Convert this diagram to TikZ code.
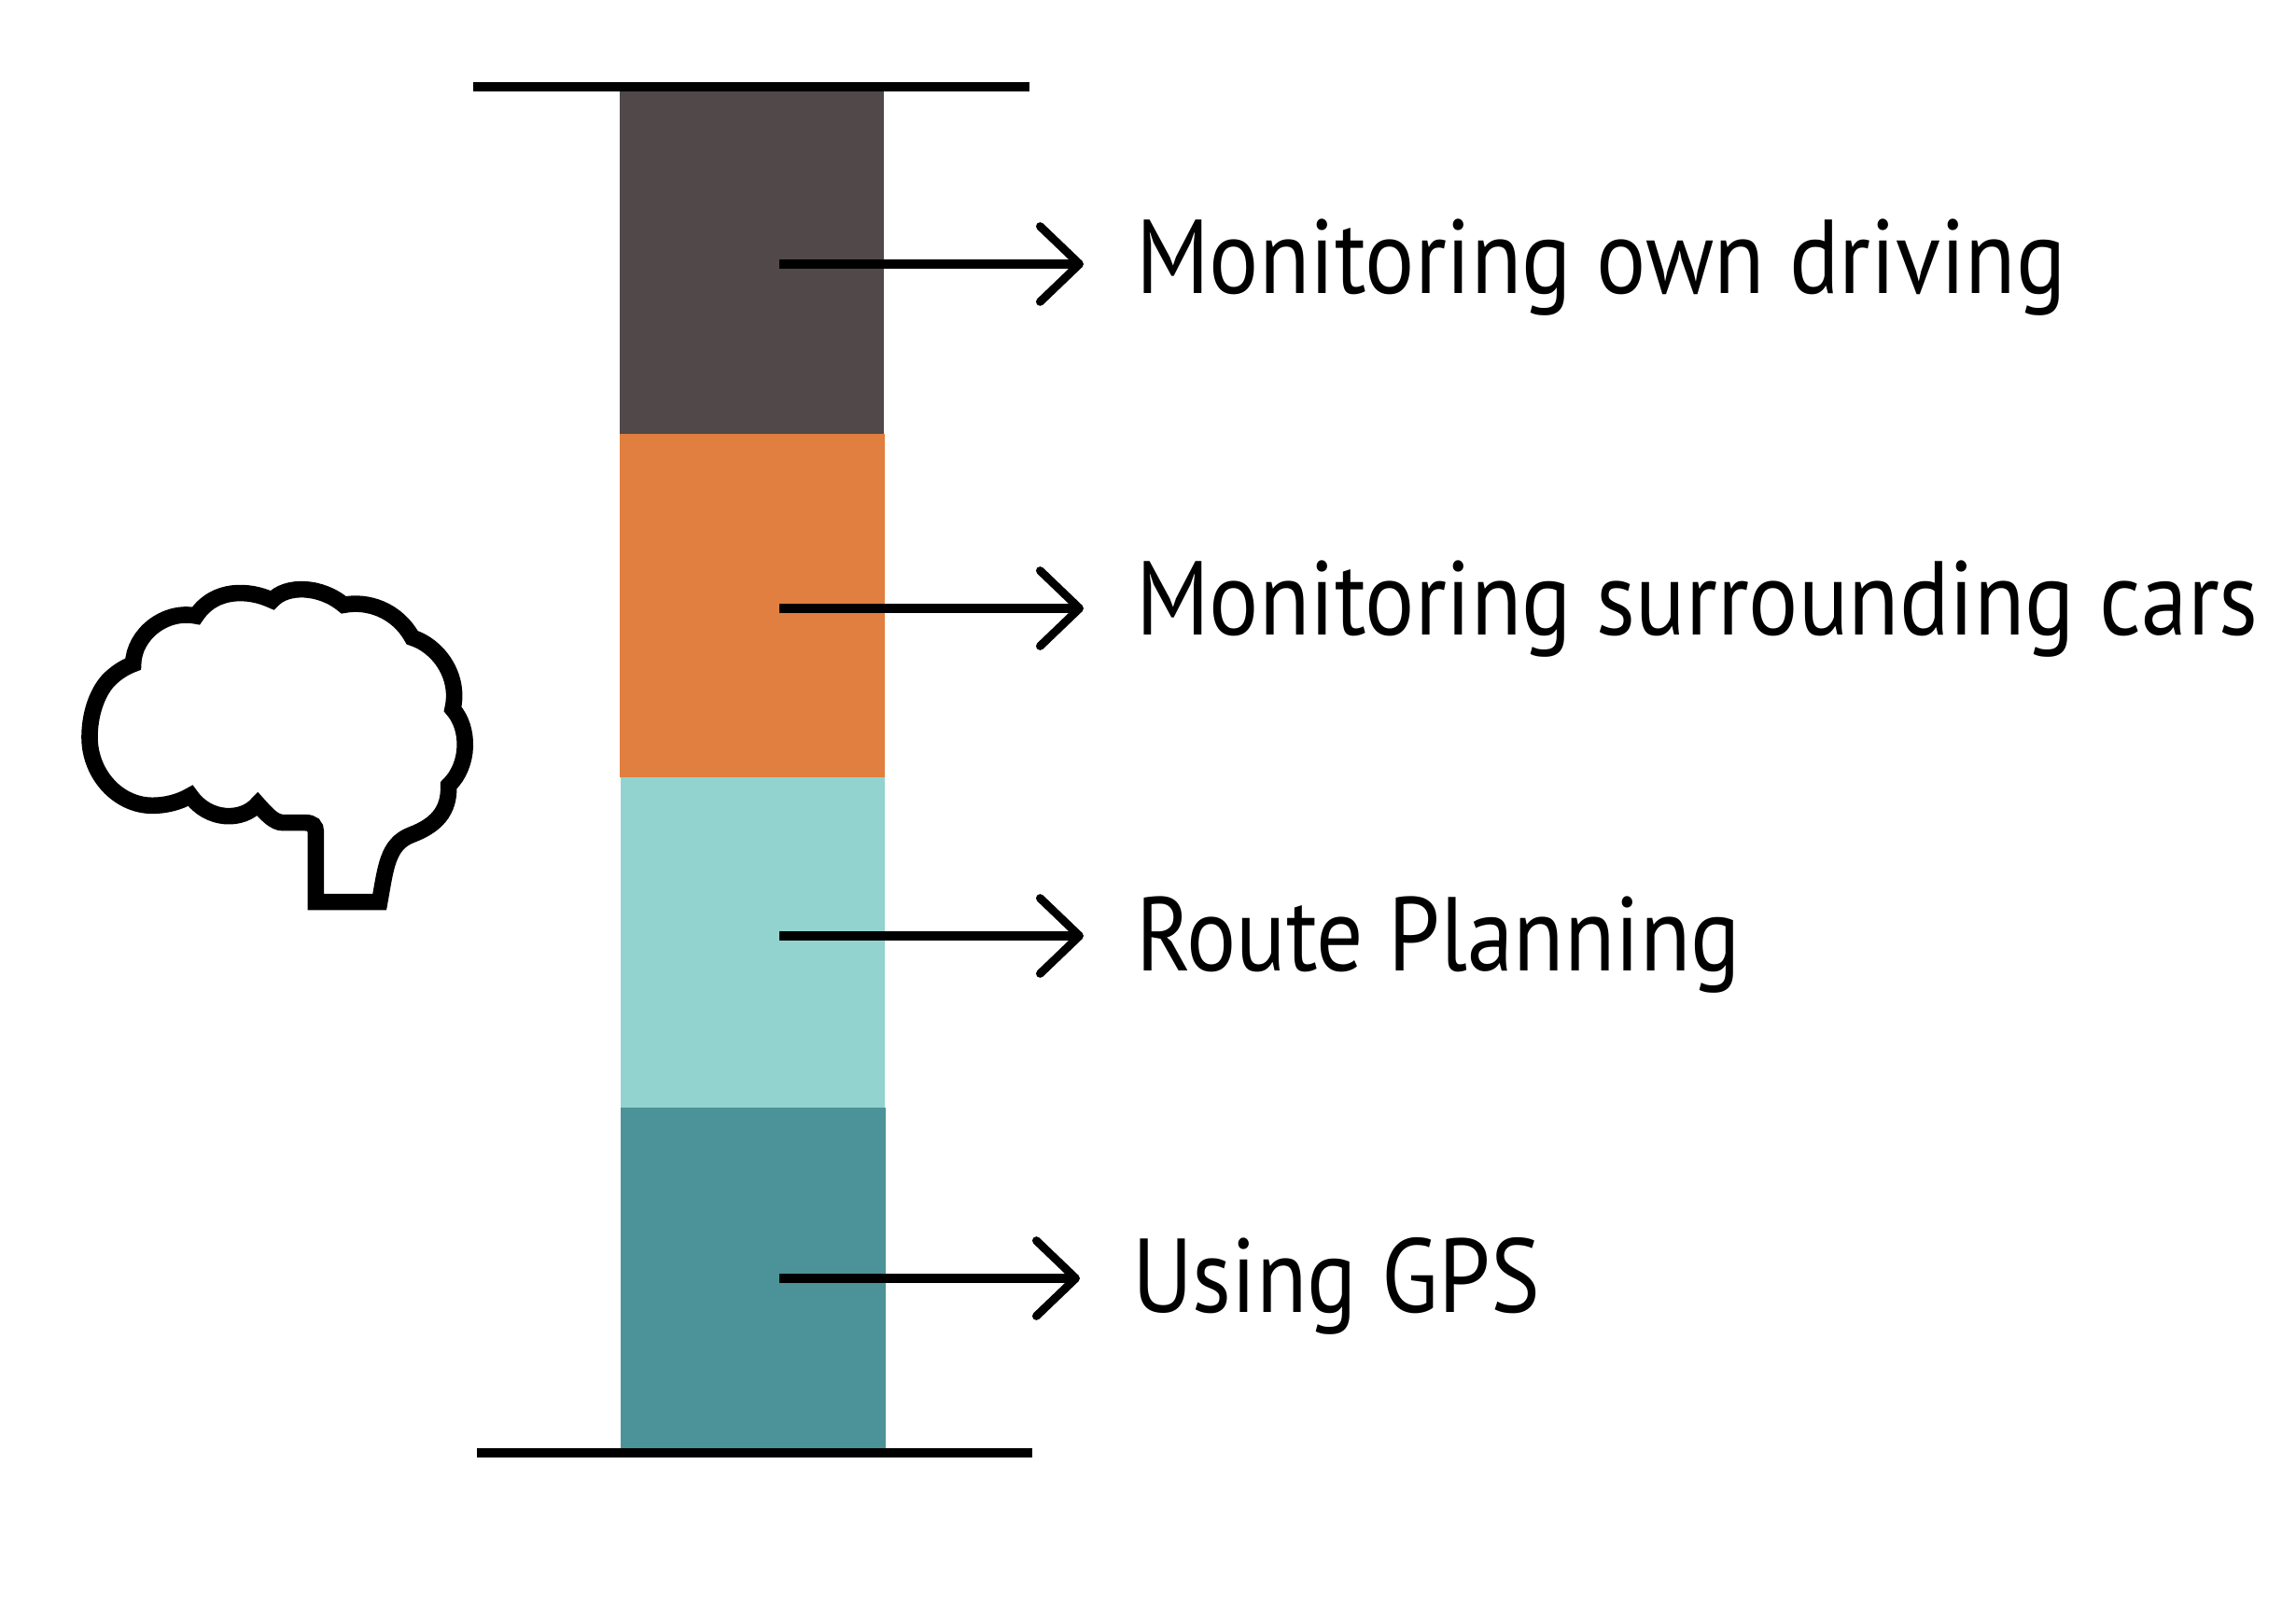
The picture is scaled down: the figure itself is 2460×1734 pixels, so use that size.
\documentclass[tikz,border=0pt]{standalone}
\usepackage{fontspec}
\setmainfont[FakeStretch=0.884]{PT Sans}
\usetikzlibrary{arrows.meta}

\definecolor{stageA}{HTML}{504849}
\definecolor{stageB}{HTML}{E07F3F}
\definecolor{stageC}{HTML}{92D3D0}
\definecolor{stageD}{HTML}{4B9398}

\begin{document}
\begin{tikzpicture}[x=0.01cm,y=-0.01cm,
			stage node/.style={rectangle,inner sep=0pt,outer sep=0pt,minimum width=2.83cm},
			task node/.style={anchor=base west,inner sep=0pt,outer sep=0pt,font=\fontsize{32}{36}\selectfont},
			rail/.style={line width=2.9pt},
			task arrow/.style={line width=2.6pt,shorten >=0.56cm,-{Straight Barb[round,length=12pt,width=23pt,line width=2.5pt]}},
			brain line/.style={line width=5pt,miter limit=4}
			]

			\useasboundingbox (0,0) rectangle (2460,1734);

			\node[stage node,fill=stageA,minimum height=3.72cm] at (805.5,279) (bar1) {};
			\node[stage node,fill=stageB,minimum height=3.68cm] at (806,649) (bar2) {};
			\node[stage node,fill=stageC,minimum height=3.54cm] at (806.5,1010) (bar3) {};
			\node[stage node,fill=stageD,minimum height=3.68cm] at (807,1371) (bar4) {};

			\coordinate (topL) at (507,93);
			\coordinate (topR) at (1103,93);
			\coordinate (botL) at (511,1557);
			\coordinate (botR) at (1106,1557);
			\draw[rail] (topL) -- (topR);
			\draw[rail] (botL) -- (botR);

			\foreach \i/\x/\y/\b/\t in {1/1217/283/315/Monitoring own driving,2/1217/652/681/Monitoring surrounding cars,3/1217/1003/1040/Route Planning,4/1213/1370/1406/Using GPS} {
				\node[task node] at (\x,\b) (task\i) {\t};
				\coordinate (from\i) at (835,\y);
				\draw[task arrow] (from\i) -- (from\i -| task\i.west);
			}

			\begin{scope}[shift={(60,600)},x=0.01cm/3,y=-0.01cm/3]
				\draw[brain line] (835,1100) -- (835,875)
					.. controls (835,855) and (825,845) .. (800,845) -- (730,845)
					.. controls (700,845) and (675,815) .. (648,785)
					.. controls (600,841) and (490,841) .. (432,758)
					.. controls (395,780) and (350,790) .. (310,790)
					.. controls (200,790) and (108,690) .. (108,570)
					.. controls (108,500) and (130,430) .. (168,388)
					.. controls (190,365) and (220,345) .. (248,335)
					.. controls (250,240) and (350,160) .. (450,180)
					.. controls (510,90) and (620,95) .. (695,130)
					.. controls (740,80) and (850,82) .. (925,145)
					.. controls (1000,130) and (1095,160) .. (1145,250)
					.. controls (1225,275) and (1300,370) .. (1275,480)
					.. controls (1330,540) and (1330,660) .. (1262,725)
					.. controls (1265,810) and (1220,855) .. (1140,885)
					.. controls (1065,915) and (1060,990) .. (1040,1100)
					-- cycle;
			\end{scope}
		\end{tikzpicture}
\end{document}
